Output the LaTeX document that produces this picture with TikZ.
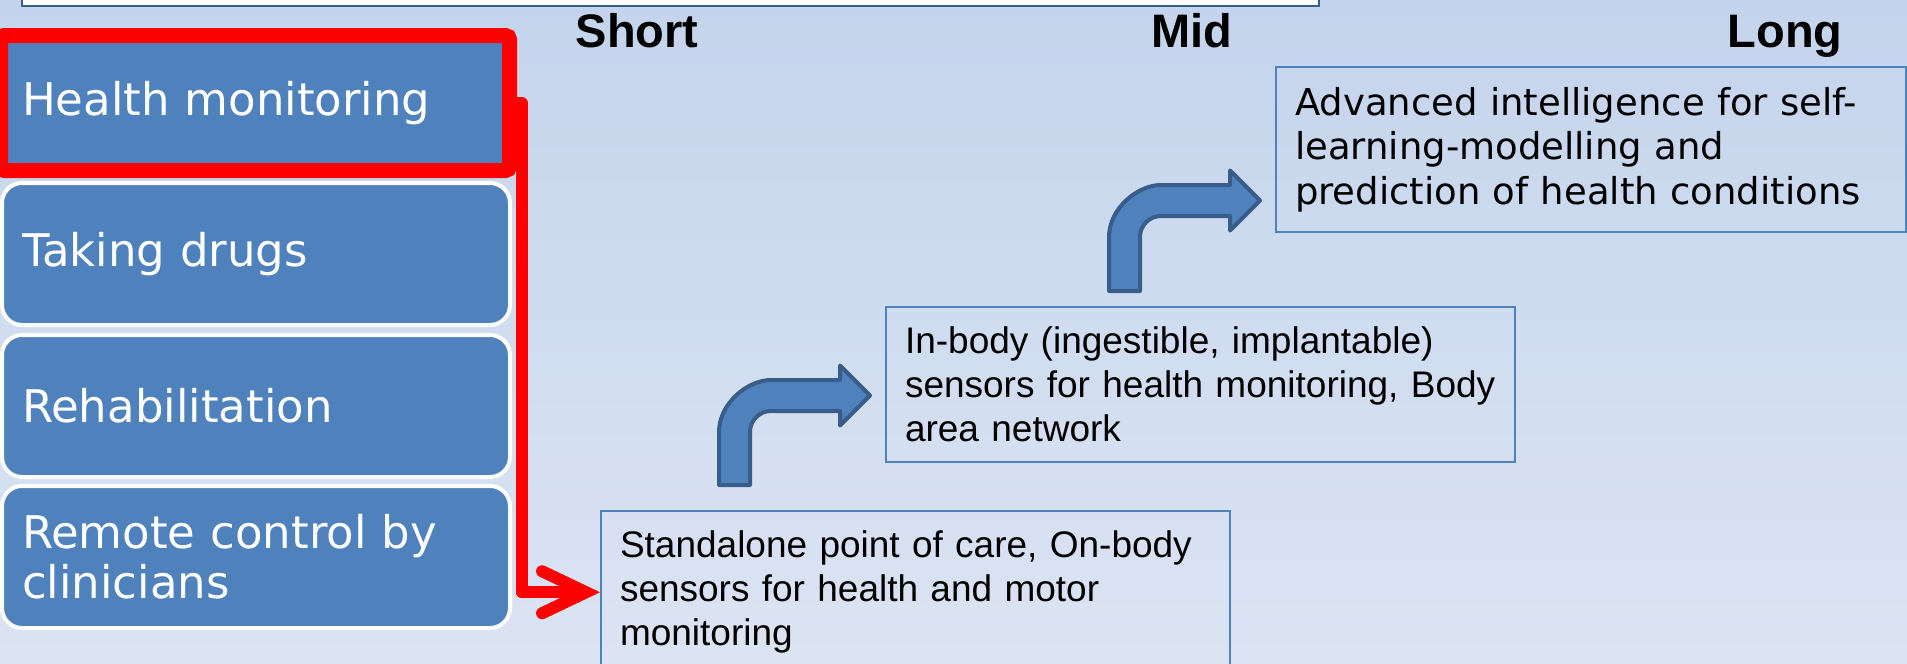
\documentclass[tikz,border=0pt]{standalone}
\usepackage{fontspec}
\setmainfont{Liberation Sans}
\newfontfamily\dejavu{DejaVu Sans}
\usetikzlibrary{arrows.meta,calc}
\definecolor{bgtop}{RGB}{196,212,236}
\definecolor{bgbot}{RGB}{220,228,243}
\definecolor{accent}{RGB}{79,129,189}
\definecolor{accentdark}{RGB}{56,93,138}

% bent arrow: #1 = stem left x, #2 = stem bottom y, #3 = shaft top y (px units)
\newcommand\bentarrow[3]{%
  \filldraw[fill=accent, draw=accentdark, line width=2pt, line join=round]
   ({#1},{#2}) -- ({#1},{#3+52})
   .. controls ({#1},{#3+23.3}) and ({#1+28.7},{#3}) .. ({#1+52},{#3})
   -- ({#1+121},{#3}) -- ({#1+121},{#3-14.5}) -- ({#1+151},{#3+15.5})
   -- ({#1+121},{#3+45.5}) -- ({#1+121},{#3+31})
   -- ({#1+52},{#3+31})
   .. controls ({#1+40.4},{#3+31}) and ({#1+31},{#3+40.4}) .. ({#1+31},{#3+52})
   -- ({#1+31},{#2}) -- cycle;}

\begin{document}
\begin{tikzpicture}[x=0.5pt, y=-0.5pt,
  leftbox/.style={rectangle, rounded corners=10pt, fill=accent, draw=white,
    line width=2pt, minimum width=254pt, minimum height=71pt,
    inner xsep=10pt, text width=234pt, align=left, text=white, outer sep=0pt,
    font=\dejavu\fontsize{22.5}{25}\selectfont},
  hmbox/.style={leftbox, rounded corners=2pt, draw=red, line width=7.5pt,
    minimum width=254.5pt, minimum height=67.5pt, inner xsep=10.75pt,
    text width=233pt},
  infobox/.style={rectangle, draw=accent, line width=1pt, align=left,
    anchor=north west, inner xsep=9.5pt, inner ysep=10pt,
    font=\fontsize{18.5}{22}\selectfont},
  header/.style={anchor=base, font=\bfseries\fontsize{23.5}{28}\selectfont},
  redline/.style={draw=red, line width=6pt, line join=round,
    -{Straight Barb[length=22pt 0 0, width=21pt 0 0, line cap=round, line join=miter]}}
]
\useasboundingbox (0,0) rectangle (1907,664);
\shade[top color=bgtop, bottom color=bgbot] (0,0) rectangle (1907,664);

% top white strip
\filldraw[fill=white, draw=accentdark, line width=1pt] (22,-10) rectangle (1319,6);

% headers
\node[header] (short) at (637,47) {Short};
\node[header] (mid) at (1192,47) {Mid};
\node[header] (long) at (1785,47) {Long};

% left column
\node[hmbox] (hm) at (255,103) {Health monitoring};
\node[leftbox] (td) at (256,254) {Taking drugs};
\node[leftbox] (rh) at (256,406) {Rehabilitation};
\node[leftbox] (rc) at (256,557) {Remote control by\\clinicians};

% right boxes
\node[infobox, text width=295.5pt] (b1) at (600,510)
  {Standalone point of care, On-body\\sensors for health and motor\\monitoring};
\node[infobox, text width=295.5pt, minimum height=77.5pt] (b2) at (885,306)
  {In-body (ingestible, implantable)\\sensors for health monitoring, Body\\area network};
\node[infobox, text width=296pt, minimum height=77.5pt,
      font=\dejavu\fontsize{18.5}{22.25}\selectfont] (b3) at (1275,66)
  {Advanced intelligence for self-\\learning-modelling and\\prediction of health conditions};

% bent arrows
\bentarrow{719}{485}{380}
\bentarrow{1109}{291}{185}

% red connector
\draw[redline] (hm.east) -- ++(12,0) |- (b1.west);
\end{tikzpicture}
\end{document}
